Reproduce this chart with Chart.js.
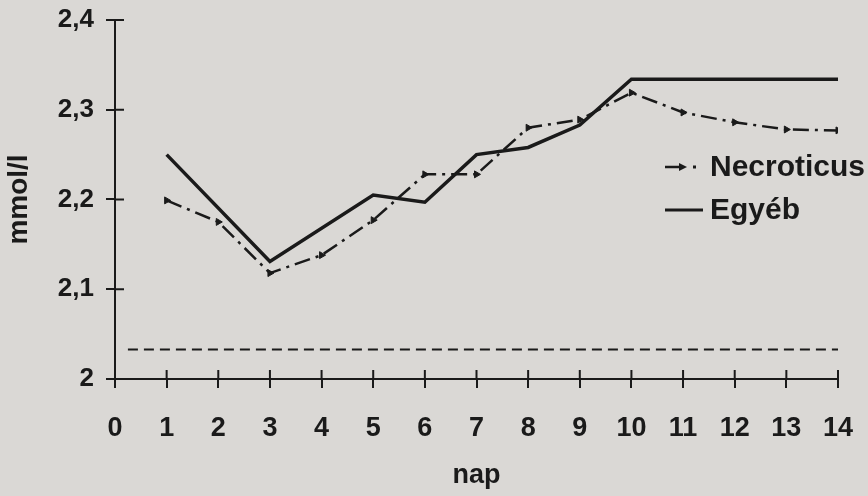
<!DOCTYPE html>
<html>
<head>
<meta charset="utf-8">
<script src="https://cdn.jsdelivr.net/npm/chart.js@4.4.0/dist/chart.umd.min.js"></script>
<style>
  html, body { margin: 0; padding: 0; background: #dad8d5; }
  #wrap { width: 868px; height: 496px; }
</style>
</head>
<body>
<div id="wrap"><canvas id="chart" width="868" height="496"></canvas></div>
<script>
// Napok (x) és értékek (mmol/l)
const napokEgyeb = [1, 3, 5, 6, 7, 8, 9, 10, 14];
const egyeb = [2.250, 2.131, 2.205, 2.197, 2.250, 2.258, 2.283, 2.334, 2.334];

const napokNecro = [1, 2, 3, 4, 5, 6, 7, 8, 9, 10, 11, 12, 13, 14];
const necroticus = [2.199, 2.175, 2.118, 2.138, 2.177, 2.228, 2.228, 2.280, 2.289, 2.319, 2.297, 2.286, 2.278, 2.277];

// szaggatott vízszintes vonal az alján
const napokHatar = [0.25, 14];
const hatar = [2.033, 2.033];

const yTickLabels = ['2', '2,1', '2,2', '2,3', '2,4'];
const legendLabels = ['Necroticus', 'Egyéb'];

const INK = '#1a1a1a';
const FONT = '"Liberation Sans", Arial, sans-serif';

function toPoints(xs, ys) {
  return xs.map((x, i) => ({ x: x, y: ys[i] }));
}

// befelé mutató tick-ek (a tengelyt keresztezik)
const innerTicks = {
  id: 'innerTicks',
  afterDraw(chart) {
    const ctx = chart.ctx;
    const xs = chart.scales.x, ys = chart.scales.y;
    ctx.save();
    ctx.strokeStyle = INK;
    ctx.lineWidth = 2;
    ctx.beginPath();
    xs.ticks.forEach(t => {
      const px = xs.getPixelForValue(t.value);
      ctx.moveTo(px, ys.bottom);
      ctx.lineTo(px, ys.bottom - 9);
    });
    ys.ticks.forEach(t => {
      const py = ys.getPixelForValue(t.value);
      ctx.moveTo(xs.left, py);
      ctx.lineTo(xs.left + 9, py);
    });
    ctx.stroke();
    ctx.restore();
  }
};

// jelmagyarázat a grafikonon belül
const insideLegend = {
  id: 'insideLegend',
  afterDraw(chart) {
    const ctx = chart.ctx;
    const x0 = 665, x1 = 703, tx = 710;
    const rows = [167, 210];
    ctx.save();
    ctx.strokeStyle = INK;
    ctx.fillStyle = INK;
    // Necroticus minta: vonal + nyílhegy + pont
    ctx.lineWidth = 2.5;
    ctx.beginPath();
    ctx.moveTo(x0, rows[0]);
    ctx.lineTo(x0 + 18, rows[0]);
    ctx.stroke();
    ctx.beginPath();
    ctx.moveTo(x0 + 22, rows[0]);
    ctx.lineTo(x0 + 14, rows[0] - 4);
    ctx.lineTo(x0 + 14, rows[0] + 4);
    ctx.closePath();
    ctx.fill();
    ctx.fillRect(x0 + 28, rows[0] - 1.5, 3, 3);
    // Egyéb minta: folytonos vonal
    ctx.lineWidth = 3;
    ctx.beginPath();
    ctx.moveTo(x0, rows[1]);
    ctx.lineTo(x1, rows[1]);
    ctx.stroke();
    ctx.font = 'bold 30px ' + FONT;
    ctx.textBaseline = 'middle';
    ctx.textAlign = 'left';
    legendLabels.forEach((l, i) => ctx.fillText(l, tx, rows[i] + 1));
    ctx.restore();
  }
};

const ctx = document.getElementById('chart').getContext('2d');
new Chart(ctx, {
  type: 'line',
  data: {
    datasets: [
      {
        label: 'Egyéb',
        data: toPoints(napokEgyeb, egyeb),
        borderColor: INK,
        borderWidth: 3.5,
        pointRadius: 0,
        tension: 0,
        borderJoinStyle: 'miter'
      },
      {
        label: 'Necroticus',
        data: toPoints(napokNecro, necroticus),
        borderColor: INK,
        backgroundColor: INK,
        borderWidth: 2.5,
        borderDash: [16, 6, 3, 6],
        pointStyle: 'triangle',
        pointRotation: 90,
        pointRadius: 4,
        pointBorderWidth: 1,
        tension: 0
      },
      {
        label: 'határ',
        data: toPoints(napokHatar, hatar),
        borderColor: INK,
        borderWidth: 2,
        borderDash: [10, 6],
        pointRadius: 0
      }
    ]
  },
  options: {
    responsive: false,
    animation: false,
    devicePixelRatio: 1,
    layout: { padding: { left: 0, right: 30, top: 20, bottom: 0 } },
    plugins: {
      legend: { display: false },
      tooltip: { enabled: false }
    },
    scales: {
      x: {
        type: 'linear',
        min: 0,
        max: 14,
        afterFit: s => { s.height = 117; s.paddingLeft = 0; s.paddingRight = 0; },
        ticks: {
          stepSize: 1,
          color: INK,
          padding: 24,
          font: { family: FONT, size: 27, weight: 'bold' }
        },
        grid: { drawOnChartArea: false, tickLength: 9, color: INK, lineWidth: 2 },
        border: { color: INK, width: 2 },
        title: {
          display: true,
          text: 'nap',
          color: INK,
          padding: { top: 0 },
          font: { family: FONT, size: 27, weight: 'bold' }
        }
      },
      y: {
        min: 2,
        max: 2.4,
        afterFit: s => { s.width = 115; s.paddingTop = 0; s.paddingBottom = 0; },
        ticks: {
          stepSize: 0.1,
          color: INK,
          padding: 12,
          font: { family: FONT, size: 26, weight: 'bold' },
          callback: (v, i) => yTickLabels[i]
        },
        grid: { drawOnChartArea: false, tickLength: 9, color: INK, lineWidth: 2 },
        border: { color: INK, width: 2 },
        title: {
          display: true,
          text: 'mmol/l',
          color: INK,
          padding: { top: 2, bottom: 0 },
          font: { family: FONT, size: 28, weight: 'bold' }
        }
      }
    }
  },
  plugins: [innerTicks, insideLegend]
});
</script>
</body>
</html>
